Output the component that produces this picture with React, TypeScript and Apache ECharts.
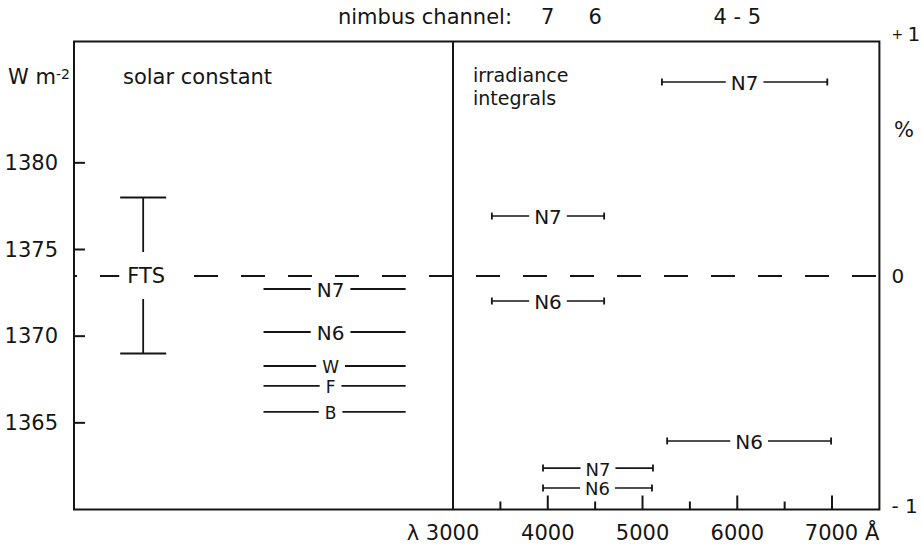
import React, { useEffect, useRef } from "react";
import * as echarts from "echarts";

// ---------- data ----------
const X_MIN = -1000;
const X_MAX = 7500;
const X_INTERVAL = 500;
const xLabelValues = [3000, 4000, 5000, 6000, 7000];
const xMajorTicks = [4000, 5000, 6000, 7000];
const xMinorTicks = [3500, 4500, 5500, 6500];
const dividerWavelength = 3000;

const Y_MIN = 1360;
const Y_MAX = 1387;
const Y_INTERVAL = 5;
const yTickValues = [1365, 1370, 1375, 1380];

const pctTicks = [-1, 0, 1];
const pctTickLabels = ["- 1", "0", "+ 1"];

const channelPositions = [4000, 4500, 6000];
const channelLabels = ["7", "6", "4 - 5"];

const ftsMean = 1373.5;
const ftsLow = 1369;
const ftsHigh = 1378;
const ftsX = -270;

const solarNames = ["N7", "N6", "W", "F", "B"];
const solarValues = [1372.72, 1370.24, 1368.28, 1367.13, 1365.63];
const solarXStart = 1000;
const solarXEnd = 2500;

const irrNames = ["N7", "N7", "N6", "N6", "N7", "N6"];
const irrPercent = [0.827, 0.254, -0.109, -0.707, -0.823, -0.908];
const irrStart = [5205, 3410, 3410, 5260, 3950, 3950];
const irrEnd = [6950, 4595, 4595, 6990, 5110, 5100];

// ---------- style ----------
const INK = "#151515";
const FONT = "DejaVu Sans";

function textStyle(text: string, size: number, extra: any = {}) {
  return {
    text,
    fill: INK,
    font: `${size}px "${FONT}"`,
    align: "center",
    textAlign: "center",
    verticalAlign: "middle",
    textVerticalAlign: "middle",
    ...extra,
  };
}

const option: any = {
  animation: false,
  backgroundColor: "#ffffff",
  grid: {
    left: 74,
    right: 42.6,
    top: 41.5,
    bottom: 40.5,
    containLabel: false,
    outerBoundsMode: "none",
    show: true,
    borderColor: INK,
    borderWidth: 2,
    backgroundColor: "transparent",
  },
  xAxis: [
    {
      type: "value",
      min: X_MIN,
      max: X_MAX,
      interval: X_INTERVAL,
      position: "bottom",
      axisLine: { show: false },
      axisTick: { show: false },
      splitLine: { show: false },
      axisLabel: {
        margin: 13,
        color: INK,
        fontFamily: FONT,
        fontSize: 21,
        formatter: (v: number) => {
          if (!xLabelValues.includes(v)) return "";
          if (v === xLabelValues[0]) return `λ ${v}{p| }`;
          if (v === xLabelValues[xLabelValues.length - 1]) return `{p| }${v} Å`;
          return String(v);
        },
        rich: { p: { width: 20, fontSize: 21, fontFamily: FONT } },
      },
    },
    {
      type: "value",
      min: X_MIN,
      max: X_MAX,
      interval: X_INTERVAL,
      position: "top",
      axisLine: { show: false },
      axisTick: { show: false },
      splitLine: { show: false },
      axisLabel: {
        margin: 14,
        color: INK,
        fontFamily: FONT,
        fontSize: 21,
        formatter: (v: number) => {
          const i = channelPositions.indexOf(v);
          return i >= 0 ? channelLabels[i] : "";
        },
      },
    },
  ],
  yAxis: [
    {
      type: "value",
      min: Y_MIN,
      max: Y_MAX,
      interval: Y_INTERVAL,
      position: "left",
      axisLine: { show: false },
      axisTick: { show: false },
      splitLine: { show: false },
      axisLabel: {
        margin: 16,
        color: INK,
        fontFamily: FONT,
        fontSize: 21,
        formatter: (v: number) => (yTickValues.includes(v) ? String(v) : ""),
      },
    },
    {
      type: "value",
      min: pctTicks[0],
      max: pctTicks[pctTicks.length - 1],
      interval: 1,
      position: "right",
      axisLine: { show: false },
      axisTick: { show: false },
      splitLine: { show: false },
      axisLabel: {
        margin: 12,
        color: INK,
        fontFamily: FONT,
        fontSize: 20,
        overflow: "none",
        formatter: (v: number) => {
          const i = pctTicks.indexOf(v);
          if (i < 0) return "";
          const lab = pctTickLabels[i];
          if (v > 0) return `{sg|${lab.slice(0, 2)}}{up|${lab.slice(2)}}`;
          if (v < 0) return `{dn|${lab}}`;
          return lab;
        },
        rich: {
          sg: { fontSize: 14, fontFamily: FONT, color: INK, padding: [0, 0, 16, 0] },
          up: { fontSize: 20, fontFamily: FONT, color: INK, padding: [0, 0, 16, 0] },
          dn: { fontSize: 20, fontFamily: FONT, color: INK, padding: [0, 0, 8, 0] },
        },
      },
    },
  ],
  graphic: [
    {
      type: "text",
      x: 512,
      y: 17,
      style: textStyle("nimbus channel:", 21, { align: "right", textAlign: "right" }),
    },
    {
      type: "text",
      x: 123,
      y: 77,
      style: textStyle("solar constant", 21, { align: "left", textAlign: "left" }),
    },
    {
      type: "text",
      x: 473,
      y: 75,
      style: textStyle("irradiance", 19, { align: "left", textAlign: "left", lineHeight: 19 }),
    },
    {
      type: "text",
      x: 473,
      y: 98,
      style: textStyle("integrals", 19, { align: "left", textAlign: "left", lineHeight: 19 }),
    },
    {
      type: "text",
      x: 8,
      y: 77,
      style: {
        text: "W m{sup|-2}",
        fill: INK,
        font: `21px "${FONT}"`,
        align: "left",
        verticalAlign: "middle",
        rich: {
          sup: { fontSize: 14, fontFamily: FONT, verticalAlign: "top", lineHeight: 12, fill: INK },
        },
      },
    },
    {
      type: "text",
      x: 904,
      y: 130,
      style: textStyle("%", 21),
    },
  ],
  series: [
    // reference lines: divider and FTS dashed level
    {
      type: "line",
      data: [],
      xAxisIndex: 0,
      yAxisIndex: 0,
      silent: true,
      markLine: {
        symbol: "none",
        silent: true,
        label: { show: false },
        emphasis: { disabled: true },
        data: [
          { xAxis: dividerWavelength, lineStyle: { type: "solid", width: 2, color: INK } },
          {
            yAxis: ftsMean,
            lineStyle: { type: [24, 23], dashOffset: 21, width: 2, color: INK },
          },
        ],
      },
    },
    // axis ticks (inside)
    {
      type: "custom",
      xAxisIndex: 0,
      yAxisIndex: 0,
      silent: true,
      z: 8,
      data: [0],
      renderItem: (params: any, api: any) => {
        const children: any[] = [];
        const addX = (v: number, len: number) => {
          const p = api.coord([v, Y_MIN]);
          children.push({
            type: "line",
            shape: { x1: p[0], y1: p[1], x2: p[0], y2: p[1] - len },
            style: { stroke: INK, lineWidth: 2 },
          });
        };
        xMajorTicks.forEach((v) => addX(v, 14));
        xMinorTicks.forEach((v) => addX(v, 8));
        yTickValues.forEach((v) => {
          const p = api.coord([X_MIN, v]);
          children.push({
            type: "line",
            shape: { x1: p[0], y1: p[1], x2: p[0] + 11, y2: p[1] },
            style: { stroke: INK, lineWidth: 2 },
          });
        });
        return { type: "group", children };
      },
    },
    // solar constant measurements
    {
      type: "custom",
      xAxisIndex: 0,
      yAxisIndex: 0,
      silent: true,
      z: 10,
      data: solarValues.map((v) => [solarXStart, solarXEnd, v]),
      encode: { x: [0, 1], y: 2 },
      renderItem: (params: any, api: any) => {
        const s = api.coord([api.value(0), api.value(2)]);
        const e = api.coord([api.value(1), api.value(2)]);
        const small = params.dataIndex >= 2;
        return {
          type: "group",
          children: [
            {
              type: "line",
              shape: { x1: s[0], y1: s[1], x2: e[0], y2: e[1] },
              style: { stroke: INK, lineWidth: 1.8 },
            },
            {
              type: "text",
              x: (s[0] + e[0]) / 2 - 4,
              y: s[1] + 1,
              style: textStyle(solarNames[params.dataIndex], small ? 17 : 20, {
                backgroundColor: "#ffffff",
                textBackgroundColor: "#ffffff",
                padding: [0, 6],
                textPadding: [0, 6],
                lineHeight: small ? 16 : 22,
              }),
            },
          ],
        };
      },
    },
    // FTS error bar
    {
      type: "custom",
      xAxisIndex: 0,
      yAxisIndex: 0,
      silent: true,
      z: 10,
      data: [[ftsX, ftsLow, ftsHigh, ftsMean]],
      encode: { x: 0, y: [1, 2] },
      renderItem: (params: any, api: any) => {
        const x = api.value(0);
        const lo = api.coord([x, api.value(1)]);
        const hi = api.coord([x, api.value(2)]);
        const mid = api.coord([x, api.value(3)]);
        const cap = 23;
        return {
          type: "group",
          children: [
            {
              type: "line",
              shape: { x1: hi[0], y1: hi[1], x2: lo[0], y2: lo[1] },
              style: { stroke: INK, lineWidth: 1.8 },
            },
            {
              type: "line",
              shape: { x1: hi[0] - cap, y1: hi[1], x2: hi[0] + cap, y2: hi[1] },
              style: { stroke: INK, lineWidth: 1.8 },
            },
            {
              type: "line",
              shape: { x1: lo[0] - cap, y1: lo[1], x2: lo[0] + cap, y2: lo[1] },
              style: { stroke: INK, lineWidth: 1.8 },
            },
            {
              type: "text",
              x: mid[0] + 3,
              y: mid[1],
              style: textStyle("FTS", 21, {
                backgroundColor: "#ffffff",
                textBackgroundColor: "#ffffff",
                padding: [13, 8],
                textPadding: [13, 8],
              }),
            },
          ],
        };
      },
    },
    // irradiance integrals (percent axis)
    {
      type: "custom",
      xAxisIndex: 0,
      yAxisIndex: 1,
      silent: true,
      z: 10,
      data: irrPercent.map((v, i) => [irrStart[i], irrEnd[i], v]),
      encode: { x: [0, 1], y: 2 },
      renderItem: (params: any, api: any) => {
        const s = api.coord([api.value(0), api.value(2)]);
        const e = api.coord([api.value(1), api.value(2)]);
        const h = 3.5;
        const small = params.dataIndex >= 4;
        return {
          type: "group",
          children: [
            {
              type: "line",
              shape: { x1: s[0], y1: s[1], x2: e[0], y2: e[1] },
              style: { stroke: INK, lineWidth: 1.6 },
            },
            {
              type: "line",
              shape: { x1: s[0], y1: s[1] - h, x2: s[0], y2: s[1] + h },
              style: { stroke: INK, lineWidth: 1.8 },
            },
            {
              type: "line",
              shape: { x1: e[0], y1: e[1] - h, x2: e[0], y2: e[1] + h },
              style: { stroke: INK, lineWidth: 1.8 },
            },
            {
              type: "text",
              x: (s[0] + e[0]) / 2,
              y: s[1] + 1,
              style: textStyle(irrNames[params.dataIndex], small ? 18 : 20, {
                backgroundColor: "#ffffff",
                textBackgroundColor: "#ffffff",
                padding: [0, 5],
                textPadding: [0, 5],
                lineHeight: small ? 17 : 22,
              }),
            },
          ],
        };
      },
    },
  ],
};

export default function App() {
  const ref = useRef<HTMLDivElement>(null);
  useEffect(() => {
    if (!ref.current) return;
    const chart = echarts.init(ref.current, null, { renderer: "svg" });
    chart.setOption(option);
    return () => chart.dispose();
  }, []);
  return (
    <div
      ref={ref}
      style={{ position: "absolute", left: 0, top: 0, width: 922, height: 550, background: "#fff" }}
    />
  );
}
